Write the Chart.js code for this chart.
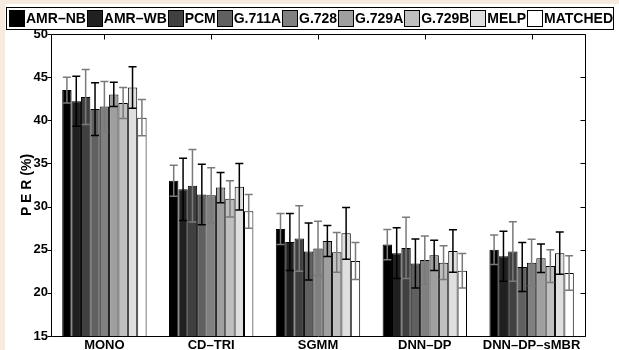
<!DOCTYPE html>
<html>
<head>
<meta charset="utf-8">
<script src="https://cdn.jsdelivr.net/npm/chart.js@4/dist/chart.umd.min.js"></script>
<style>
  html, body { margin: 0; padding: 0; background: #f6ebde; width: 619px; height: 350px; overflow: hidden; }
  #wrap { position: absolute; left: 5px; top: 4px; width: 614px; height: 346px; background: #fff; }
  canvas { display: block; }
</style>
</head>
<body>
<div id="wrap"><canvas id="per" width="614" height="346"></canvas></div>
<script>
// Acoustic models on the x axis
const categories = ['MONO', 'CD–TRI', 'SGMM', 'DNN–DP', 'DNN–DP–sMBR'];
// Codecs (one bar series each)
const seriesNames = ['AMR–NB', 'AMR–WB', 'PCM', 'G.711A', 'G.728', 'G.729A', 'G.729B', 'MELP', 'MATCHED'];
const yTicks = [15, 20, 25, 30, 35, 40, 45, 50];

// Mean phone error rate (%) per codec
const perAmrNb   = [43.5, 33.0, 27.4, 25.6, 25.0];
const perAmrWb   = [42.2, 32.0, 25.9, 24.6, 24.25];
const perPcm     = [42.7, 32.4, 26.3, 25.2, 24.8];
const perG711a   = [41.3, 31.4, 24.8, 23.4, 23.0];
const perG728    = [41.6, 31.3, 25.15, 23.8, 23.5];
const perG729a   = [43.0, 32.2, 26.0, 24.35, 24.0];
const perG729b   = [42.0, 30.9, 24.7, 23.5, 23.1];
const perMelp    = [43.8, 32.3, 26.9, 24.85, 24.6];
const perMatched = [40.3, 29.45, 23.7, 22.55, 22.3];

// Half-width of the error bars (%)
const errAmrNb   = [1.5, 1.8, 1.8, 1.75, 1.7];
const errAmrWb   = [2.9, 3.6, 3.3, 2.95, 2.9];
const errPcm     = [3.2, 4.2, 3.8, 3.55, 3.45];
const errG711a   = [3.05, 3.5, 3.3, 2.85, 2.85];
const errG728    = [2.9, 3.2, 3.15, 2.8, 2.7];
const errG729a   = [1.4, 1.75, 1.8, 1.75, 1.65];
const errG729b   = [1.8, 2.1, 2.3, 1.95, 1.9];
const errMelp    = [2.4, 2.7, 3.0, 2.45, 2.45];
const errMatched = [2.1, 1.95, 2.15, 2.0, 2.0];

const means = [perAmrNb, perAmrWb, perPcm, perG711a, perG728, perG729a, perG729b, perMelp, perMatched];
const errs  = [errAmrNb, errAmrWb, errPcm, errG711a, errG728, errG729a, errG729b, errMelp, errMatched];
const grays = ['#000000', '#202020', '#404040', '#606060', '#808080', '#9f9f9f', '#bfbfbf', '#dfdfdf', '#ffffff'];

const FONT = 'Liberation Sans, Arial, Helvetica, sans-serif';

// Error bars with caps, alternating gray / black
const errorBars = {
  id: 'errorBars',
  afterDatasetsDraw(chart) {
    const ctx = chart.ctx, y = chart.scales.y;
    ctx.save();
    ctx.lineWidth = 1.5;
    chart.data.datasets.forEach((ds, i) => {
      const meta = chart.getDatasetMeta(i);
      ctx.strokeStyle = i % 2 === 0 ? '#7a7a7a' : '#000000';
      meta.data.forEach((bar, j) => {
        const v = ds.data[j], e = ds.errors[j];
        const yt = y.getPixelForValue(v + e), yb = y.getPixelForValue(v - e);
        const cx = bar.x, hw = 4;
        ctx.beginPath();
        ctx.moveTo(cx, yt); ctx.lineTo(cx, yb);
        ctx.moveTo(cx - hw, yt); ctx.lineTo(cx + hw, yt);
        ctx.moveTo(cx - hw, yb); ctx.lineTo(cx + hw, yb);
        ctx.stroke();
      });
    });
    ctx.restore();
  }
};

// Box around the plot area with tick marks
const frame = {
  id: 'frame',
  afterDraw(chart) {
    const ctx = chart.ctx, { left, right, top, bottom } = chart.chartArea;
    const x = chart.scales.x, y = chart.scales.y;
    const L = Math.round(left) + 0.5, R = Math.round(right) + 0.5;
    const T = Math.round(top) + 0.5, B = Math.round(bottom) + 0.5;
    ctx.save();
    ctx.strokeStyle = '#000';
    ctx.lineWidth = 1;
    ctx.beginPath();
    ctx.rect(L, T, R - L, B - T);
    y.ticks.forEach(t => {
      const py = Math.round(y.getPixelForValue(t.value)) + 0.5;
      ctx.moveTo(L - 4, py); ctx.lineTo(L, py);
      ctx.moveTo(R - 5, py); ctx.lineTo(R, py);
    });
    categories.forEach((c, i) => {
      const px = Math.round(x.getPixelForValue(i)) + 0.5;
      ctx.moveTo(px, T); ctx.lineTo(px, T + 5);
    });
    ctx.stroke();
    ctx.restore();
  }
};

// Single-row legend inside an outlined box
const legendBox = {
  id: 'legendBox',
  afterDraw(chart) {
    const ctx = chart.ctx;
    ctx.save();
    ctx.font = 'bold 14px ' + FONT;
    const x0 = 4, x1 = 607, boxW = 15, boxH = 16, gap = 1;
    const widths = seriesNames.map(n => ctx.measureText(n).width);
    const used = widths.reduce((a, w) => a + boxW + gap + w, 0);
    const spacing = (x1 - x0 - used) / (seriesNames.length - 1);
    ctx.strokeStyle = '#000';
    ctx.lineWidth = 1;
    ctx.strokeRect(1.5, 3.5, 607, 22);
    let x = x0;
    ctx.textBaseline = 'middle';
    ctx.textAlign = 'left';
    seriesNames.forEach((n, i) => {
      const bx = Math.round(x) + 0.5;
      ctx.fillStyle = grays[i];
      ctx.fillRect(bx, 6.5, boxW, boxH);
      ctx.strokeRect(bx, 6.5, boxW, boxH);
      ctx.fillStyle = '#000';
      ctx.fillText(n, x + boxW + gap + 1, 15);
      x += boxW + gap + widths[i] + spacing;
    });
    ctx.restore();
  }
};

new Chart(document.getElementById('per'), {
  type: 'bar',
  data: {
    labels: categories,
    datasets: seriesNames.map((n, i) => ({
      label: n,
      data: means[i],
      errors: errs[i],
      backgroundColor: grays[i],
      borderColor: '#000',
      borderWidth: 1,
      barPercentage: 1.0,
      categoryPercentage: 0.79
    }))
  },
  options: {
    responsive: false,
    animation: false,
    layout: { padding: { left: 0, right: 34, top: 30, bottom: 0 } },
    plugins: { legend: { display: false }, tooltip: { enabled: false } },
    scales: {
      x: {
        grid: { display: false, drawTicks: false },
        border: { display: false },
        ticks: { color: '#000', font: { family: FONT, size: 13, weight: 'bold' }, padding: 2, maxRotation: 0, autoSkip: false },
        afterFit(s) { s.height = 14; }
      },
      y: {
        min: 15, max: 50,
        afterBuildTicks(s) { s.ticks = yTicks.map(v => ({ value: v })); },
        grid: { display: false, drawTicks: false },
        border: { display: false },
        ticks: { color: '#000', font: { family: FONT, size: 13, weight: 'bold' }, padding: 3 },
        title: { display: true, text: 'P E R (%)', color: '#000', font: { family: FONT, size: 14, weight: 'bold' }, padding: { top: 14, bottom: 0 } },
        afterFit(s) { s.width = 46; }
      }
    }
  },
  plugins: [errorBars, frame, legendBox]
});
</script>
</body>
</html>
